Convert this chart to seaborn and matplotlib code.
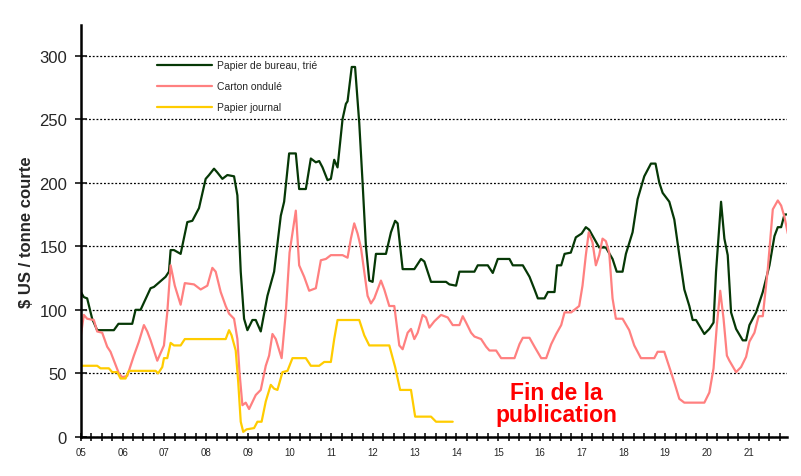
import matplotlib
matplotlib.use("Agg")
import matplotlib.pyplot as plt
import seaborn as sns
from matplotlib.ticker import MultipleLocator

# Papier de bureau trié (decimal year, $US / short ton)
bureau_x = [2005.0, 2005.07, 2005.15, 2005.27, 2005.39, 2005.79, 2005.9, 2006.23, 2006.31, 2006.43,
            2006.67, 2006.75, 2007.03, 2007.11, 2007.15, 2007.23, 2007.39, 2007.55, 2007.67, 2007.83,
            2007.99, 2008.07, 2008.19, 2008.27, 2008.39, 2008.51, 2008.67, 2008.75, 2008.83, 2008.91,
            2008.99, 2009.11, 2009.19, 2009.31, 2009.47, 2009.63, 2009.79, 2009.87, 2009.99, 2010.15,
            2010.23, 2010.39, 2010.51, 2010.63, 2010.71, 2010.79, 2010.91, 2010.99, 2011.07, 2011.15,
            2011.27, 2011.35, 2011.39, 2011.49, 2011.57, 2011.67, 2011.75, 2011.83, 2011.91, 2011.99,
            2012.07, 2012.31, 2012.43, 2012.53, 2012.59, 2012.71, 2012.99, 2013.15, 2013.23, 2013.39,
            2013.75, 2013.83, 2013.99, 2014.07, 2014.43, 2014.51, 2014.75, 2014.87, 2014.99, 2015.27,
            2015.35, 2015.59, 2015.75, 2015.87, 2015.95, 2016.11, 2016.19, 2016.35, 2016.41, 2016.51,
            2016.59, 2016.74, 2016.86, 2017.0, 2017.1, 2017.18, 2017.42, 2017.58, 2017.74, 2017.84,
            2017.98, 2018.06, 2018.22, 2018.34, 2018.5, 2018.66, 2018.77, 2018.86, 2018.94, 2019.1,
            2019.22, 2019.34, 2019.46, 2019.58, 2019.66, 2019.74, 2019.94, 2020.06, 2020.16, 2020.22,
            2020.34, 2020.42, 2020.5, 2020.58, 2020.7, 2020.86, 2020.94, 2021.02, 2021.18, 2021.34,
            2021.5, 2021.62, 2021.7, 2021.78, 2021.86, 2021.94]
bureau_y = [114, 110, 109, 93, 84, 84, 89, 89, 100, 100,
            117, 118, 126, 130, 147, 147, 144, 169, 170, 180,
            203, 206, 211, 208, 203, 206, 205, 190, 130, 93,
            84, 92, 92, 83, 111, 130, 174, 185, 223, 223,
            195, 195, 219, 216, 217, 212, 202, 203, 218, 212,
            250, 262, 264, 291, 291, 247, 200, 150, 123, 122,
            144, 144, 161, 170, 168, 132, 132, 140, 138, 122,
            122, 120, 119, 130, 130, 135, 135, 129, 140, 140,
            135, 135, 126, 116, 109, 109, 114, 114, 135, 135,
            144, 145, 157, 160, 165, 163, 149, 149, 140, 130,
            130, 144, 161, 187, 205, 215, 215, 200, 192, 185,
            171, 143, 116, 103, 92, 92, 81, 85, 90, 130,
            185, 156, 143, 98, 85, 76, 76, 88, 98, 114,
            135, 158, 165, 165, 175, 175]

# Carton ondulé
carton_x = [2005.0, 2005.07, 2005.15, 2005.31, 2005.39, 2005.51, 2005.63, 2005.71, 2005.91, 2005.99,
            2006.11, 2006.27, 2006.39, 2006.51, 2006.59, 2006.67, 2006.83, 2006.99, 2007.07, 2007.15,
            2007.25, 2007.39, 2007.49, 2007.71, 2007.87, 2008.03, 2008.15, 2008.23, 2008.35, 2008.47,
            2008.55, 2008.67, 2008.75, 2008.8, 2008.87, 2008.95, 2009.03, 2009.19, 2009.31, 2009.43,
            2009.51, 2009.59, 2009.67, 2009.81, 2009.91, 2010.0, 2010.15, 2010.23, 2010.35, 2010.47,
            2010.63, 2010.75, 2010.87, 2010.99, 2011.27, 2011.39, 2011.47, 2011.55, 2011.63, 2011.71,
            2011.79, 2011.87, 2011.95, 2012.03, 2012.19, 2012.27, 2012.39, 2012.51, 2012.63, 2012.71,
            2012.83, 2012.91, 2012.99, 2013.07, 2013.19, 2013.27, 2013.35, 2013.47, 2013.63, 2013.79,
            2013.91, 2014.07, 2014.15, 2014.23, 2014.35, 2014.43, 2014.59, 2014.71, 2014.79, 2014.95,
            2015.07, 2015.39, 2015.51, 2015.59, 2015.75, 2015.87, 2016.03, 2016.15, 2016.27, 2016.39,
            2016.51, 2016.59, 2016.75, 2016.94, 2017.02, 2017.1, 2017.17, 2017.26, 2017.34, 2017.42,
            2017.5, 2017.58, 2017.66, 2017.74, 2017.82, 2017.98, 2018.14, 2018.26, 2018.42, 2018.74,
            2018.82, 2018.98, 2019.1, 2019.22, 2019.34, 2019.46, 2019.94, 2020.06, 2020.16, 2020.24,
            2020.32, 2020.4, 2020.48, 2020.54, 2020.7, 2020.82, 2020.94, 2021.02, 2021.14, 2021.24,
            2021.34, 2021.46, 2021.58, 2021.7, 2021.78, 2021.86, 2021.94]
carton_y = [80, 96, 93, 92, 83, 82, 71, 67, 50, 47,
            48, 64, 75, 88, 83, 76, 60, 72, 98, 135,
            119, 104, 121, 120, 116, 119, 133, 130, 114, 103,
            97, 93, 77, 51, 25, 27, 22, 33, 37, 56,
            64, 81, 77, 62, 98, 145, 178, 135, 126, 115,
            117, 139, 140, 143, 143, 141, 156, 168, 160, 149,
            130, 111, 105, 109, 123, 116, 103, 103, 72, 69,
            82, 85, 77, 82, 96, 94, 86, 91, 96, 94,
            88, 88, 95, 90, 82, 79, 77, 71, 68, 68,
            62, 62, 73, 78, 78, 71, 62, 62, 73, 81,
            88, 98, 98, 103, 119, 143, 161, 153, 135, 143,
            156, 154, 145, 109, 93, 93, 84, 72, 62, 62,
            67, 67, 55, 43, 30, 27, 27, 35, 54, 88,
            115, 93, 64, 60, 51, 55, 63, 75, 82, 95,
            95, 132, 179, 186, 182, 173, 160]

# Papier journal (publication stops in 2013)
journal_x = [2005.0, 2005.39, 2005.47, 2005.67, 2005.75, 2005.87, 2005.95, 2006.07, 2006.15, 2006.79,
             2006.85, 2006.95, 2006.99, 2007.07, 2007.15, 2007.23, 2007.39, 2007.49, 2008.47, 2008.55,
             2008.61, 2008.71, 2008.77, 2008.83, 2008.89, 2008.97, 2009.15, 2009.23, 2009.33, 2009.43,
             2009.55, 2009.63, 2009.71, 2009.83, 2009.95, 2010.07, 2010.39, 2010.51, 2010.71, 2010.83,
             2010.99, 2011.07, 2011.15, 2011.67, 2011.79, 2011.91, 2012.39, 2012.53, 2012.65, 2012.91,
             2013.01, 2013.39, 2013.51, 2013.91]
journal_y = [56, 56, 54, 54, 51, 51, 46, 46, 52, 52,
             50, 55, 62, 62, 74, 72, 72, 77, 77, 84,
             80, 68, 43, 12, 4, 6, 7, 12, 12, 28,
             41, 38, 37, 51, 52, 62, 62, 56, 56, 59,
             59, 77, 92, 92, 80, 72, 72, 55, 37, 37,
             16, 16, 12, 12]

year_ticks = list(range(2005, 2022))
year_labels = ["%02d" % (y % 100) for y in year_ticks]

def main():
    sns.set_style("white")
    plt.rcParams["font.family"] = ["Liberation Sans", "DejaVu Sans"]
    fig = plt.figure(figsize=(8.01, 4.77), dpi=100)
    ax = fig.add_axes([0.101, 0.0818, 0.8815, 0.8637])

    sns.lineplot(x=bureau_x, y=bureau_y, ax=ax, color="#063806", lw=1.6, label="Papier de bureau, trié")
    sns.lineplot(x=carton_x, y=carton_y, ax=ax, color="#ff8080", lw=1.6, label="Carton ondulé")
    sns.lineplot(x=journal_x, y=journal_y, ax=ax, color="#ffcc00", lw=1.6, label="Papier journal")

    ax.set_xlim(2005, 2021.92)
    ax.set_ylim(0, 324)
    ax.set_yticks([0, 50, 100, 150, 200, 250, 300])
    ax.yaxis.grid(True, color="black", linestyle=(0, (1.5, 1.5)), lw=0.9)
    ax.set_axisbelow(True)
    ax.set_xticks(year_ticks)
    ax.set_xticklabels(year_labels, fontsize=7)
    ax.xaxis.set_minor_locator(MultipleLocator(0.25))
    ax.tick_params(axis="x", which="both", direction="inout", length=6, width=1.3, pad=4, bottom=True)
    ax.tick_params(axis="y", direction="inout", length=8, width=1.3, labelsize=12, pad=6, left=True)
    for side in ["top", "right"]:
        ax.spines[side].set_visible(False)
    for side in ["left", "bottom"]:
        ax.spines[side].set_color("black")
        ax.spines[side].set_linewidth(1.8)

    ax.set_ylabel("$ US / tonne courte", fontsize=12, fontweight="bold", labelpad=4)
    ax.set_xlabel("")

    ax.legend(loc="upper left", bbox_to_anchor=(0.095, 0.937), frameon=False, fontsize=7.5,
              handlelength=5.2, labelspacing=1.05, handletextpad=0.5)

    ax.text(2016.4, 26, "Fin de la\npublication", color="red", fontsize=16.5, fontweight="bold",
            ha="center", va="center", linespacing=0.95)

    fig.savefig("out.png", dpi=100)
    plt.close(fig)

if __name__ == "__main__":
    main()
